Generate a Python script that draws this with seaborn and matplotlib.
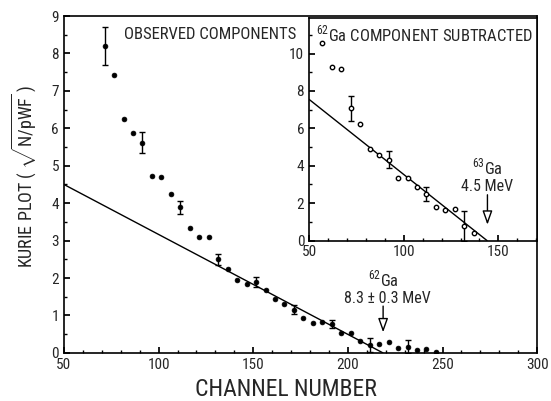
import matplotlib
matplotlib.use("Agg")
import matplotlib.pyplot as plt
import seaborn as sns
import numpy as np
import pandas as pd
from matplotlib.ticker import MultipleLocator
from matplotlib import font_manager

# ---- main panel data (observed components) ----
main_channel = [71.5, 76.5, 81.5, 86.5, 91.5, 96.5, 101.5, 106.5, 111.5, 116.5,
                121.5, 126.5, 131.5, 136.5, 141.5, 146.5, 151.5, 156.5, 161.5, 166.5,
                171.5, 176.5, 181.5, 186.5, 191.5, 196.5, 201.5, 206.5, 211.5, 216.5,
                221.5, 226.5, 231.5, 236.5, 241.5, 246.5]
main_kurie = [8.20, 7.42, 6.24, 5.87, 5.62, 4.73, 4.70, 4.24, 3.89, 3.34,
              3.10, 3.09, 2.50, 2.25, 1.96, 1.85, 1.89, 1.67, 1.45, 1.30,
              1.15, 0.93, 0.79, 0.83, 0.77, 0.53, 0.52, 0.32, 0.22, 0.23,
              0.29, 0.12, 0.17, 0.09, 0.10, 0.03]
main_err_channel = [71.5, 91.5, 111.5, 131.5, 151.5, 171.5, 191.5, 211.5, 231.5]
main_err_value = [8.20, 5.62, 3.89, 2.50, 1.89, 1.15, 0.77, 0.22, 0.17]
main_err_size = [0.50, 0.28, 0.18, 0.15, 0.13, 0.12, 0.10, 0.19, 0.18]
main_fit_x = [50, 218.5]
main_fit_y = [4.50, 0.0]

# ---- inset data (62Ga component subtracted) ----
inset_channel = [57, 62, 67, 72, 77, 82, 87, 92, 97, 102, 107, 112, 117, 122, 127, 132, 137]
inset_kurie = [10.54, 9.30, 9.16, 7.07, 6.26, 4.92, 4.60, 4.33, 3.35, 3.35,
               2.87, 2.50, 1.82, 1.61, 1.68, 0.80, 0.40]
inset_err_channel = [72, 92, 112, 132]
inset_err_value = [7.07, 4.33, 2.50, 0.80]
inset_err_size = [0.65, 0.45, 0.38, 0.80]
inset_fit_x = [50, 144]
inset_fit_y = [7.55, 0.0]

sns.set_theme(style="ticks")
names = {f.name for f in font_manager.fontManager.ttflist}
fam = [n for n in ['Liberation Sans Narrow', 'Roboto Condensed', 'Liberation Sans', 'DejaVu Sans'] if n in names]
plt.rcParams['font.family'] = fam
plt.rcParams['mathtext.fontset'] = 'custom'
plt.rcParams['mathtext.rm'] = fam[0]

fig = plt.figure(figsize=(5.51, 4.01), dpi=100)
ax = fig.add_axes([0.116, 0.120, 0.859, 0.840])

df_main = pd.DataFrame({"channel": main_channel, "kurie": main_kurie})
df_mfit = pd.DataFrame({"channel": main_fit_x, "kurie": main_fit_y})
sns.lineplot(data=df_mfit, x="channel", y="kurie", ax=ax, color="black", lw=1.0)
sns.scatterplot(data=df_main, x="channel", y="kurie", ax=ax, color="black",
                s=12, edgecolor="black", linewidth=0.5, zorder=3)
ax.errorbar(main_err_channel, main_err_value, yerr=main_err_size, fmt="none",
            ecolor="black", elinewidth=1.0, capsize=2.5, capthick=1.0, zorder=3)

ax.set_xlim(50, 300)
ax.set_ylim(0, 9)
ax.xaxis.set_major_locator(MultipleLocator(50))
ax.xaxis.set_minor_locator(MultipleLocator(10))
ax.yaxis.set_major_locator(MultipleLocator(1))
ax.yaxis.set_minor_locator(MultipleLocator(0.5))
ax.tick_params(which="both", direction="in", top=False, right=False, labelsize=11, color="black")
ax.tick_params(which="major", length=4)
ax.tick_params(which="minor", length=2.5)
for s in ax.spines.values():
    s.set_linewidth(1.2)
    s.set_color("black")
ax.set_xlabel("CHANNEL NUMBER", fontsize=17)
ax.set_ylabel(r"KURIE PLOT ( $\sqrt{\mathrm{N/pWF}}$ )", fontsize=13)
ax.xaxis.set_label_coords(0.469, -0.108)
ax.yaxis.set_label_coords(-0.085, 0.525)
ax.xaxis.label.set_va("center")
ax.yaxis.label.set_va("center")
ax.text(0.127, 0.945, "OBSERVED COMPONENTS", transform=ax.transAxes, fontsize=12,
        ha="left", va="center")

arrow_kw = dict(arrowstyle="-|>,head_length=0.7,head_width=0.25",
                ec="black", fc="white", lw=1.0, shrinkA=0, shrinkB=0)
ax.annotate("", xy=(218.6, 0.55), xytext=(218.6, 1.25), arrowprops=arrow_kw)
ax.text(219, 1.98, r"$^{62}$Ga", fontsize=12, ha="center", va="center")
ax.text(221, 1.46, "8.3 ± 0.3 MeV", fontsize=11.5, ha="center", va="center")

# ---- inset ----
ins = fig.add_axes([0.561, 0.400, 0.414, 0.555])
ins.set_facecolor("white")
df_ins = pd.DataFrame({"channel": inset_channel, "kurie": inset_kurie})
df_ifit = pd.DataFrame({"channel": inset_fit_x, "kurie": inset_fit_y})
sns.lineplot(data=df_ifit, x="channel", y="kurie", ax=ins, color="black", lw=1.0)
sns.scatterplot(data=df_ins, x="channel", y="kurie", ax=ins, facecolor="white",
                edgecolor="black", s=10, linewidth=1.0, zorder=3)
ins.errorbar(inset_err_channel, inset_err_value, yerr=inset_err_size, fmt="none",
             ecolor="black", elinewidth=1.0, capsize=2.5, capthick=1.0, zorder=2)
ins.set_xlim(50, 170.5)
ins.set_ylim(0, 11.9)
ins.xaxis.set_major_locator(MultipleLocator(50))
ins.xaxis.set_minor_locator(MultipleLocator(10))
ins.yaxis.set_major_locator(MultipleLocator(2))
ins.yaxis.set_minor_locator(MultipleLocator(1))
ins.tick_params(which="both", direction="in", top=False, right=False, labelsize=11, color="black")
ins.tick_params(which="major", length=4)
ins.tick_params(which="minor", length=2.5)
for s in ins.spines.values():
    s.set_linewidth(1.2)
    s.set_color("black")
ins.set_xlabel("")
ins.set_ylabel("")
ins.text(0.03, 0.93, r"$^{62}$Ga COMPONENT SUBTRACTED", transform=ins.transAxes,
         fontsize=12, ha="left", va="center")
ins.annotate("", xy=(144.2, 0.85), xytext=(144.2, 2.45), arrowprops=arrow_kw)
ins.text(144, 3.95, r"$^{63}$Ga", fontsize=12, ha="center", va="center")
ins.text(144, 2.9, "4.5 MeV", fontsize=11.5, ha="center", va="center")

fig.savefig("out.png", dpi=100)
